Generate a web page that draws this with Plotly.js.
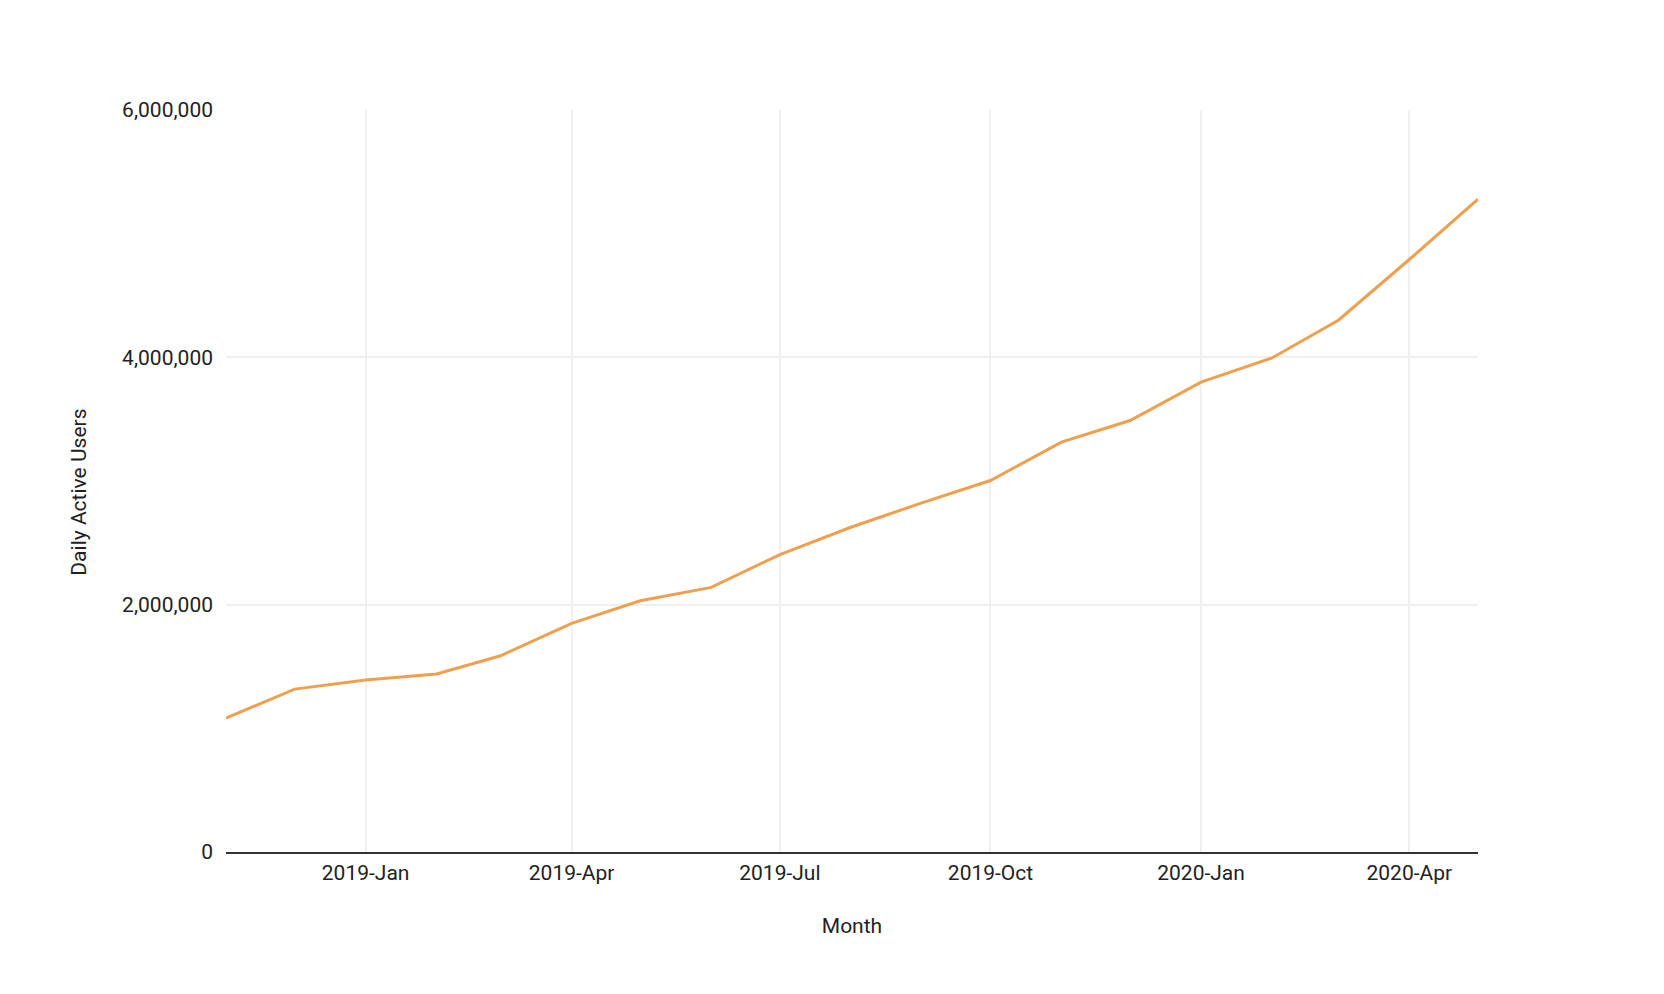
<!DOCTYPE html>
<html>
<head>
<meta charset="utf-8">
<script src="https://cdn.plot.ly/plotly-3.0.1.min.js"></script>
<style>
  html, body { margin: 0; padding: 0; background: #ffffff; }
  #chart { width: 1664px; height: 994px; }
</style>
</head>
<body>
<div id="chart"></div>
<script>
// Monthly data points (first of each month)
const months = [
  '2018-11-01', '2018-12-01', '2019-01-01', '2019-02-01', '2019-03-01',
  '2019-04-01', '2019-05-01', '2019-06-01', '2019-07-01', '2019-08-01',
  '2019-09-01', '2019-10-01', '2019-11-01', '2019-12-01', '2020-01-01',
  '2020-02-01', '2020-03-01', '2020-04-01', '2020-05-01'
];
const dailyActiveUsers = [
  1083000, 1317000, 1390000, 1439000, 1587000,
  1849000, 2032000, 2140000, 2405000, 2626000,
  2823000, 3004000, 3314000, 3489000, 3800000,
  3995000, 4300000, 4791000, 5279000
];
const yTickValues = [0, 2000000, 4000000, 6000000];
const xAxisTitle = 'Month';
const yAxisTitle = 'Daily Active Users';

const fontFamily = 'Roboto, "Liberation Sans", Arial, sans-serif';

const trace = {
  type: 'scatter',
  mode: 'lines',
  x: months,
  y: dailyActiveUsers,
  line: { color: '#EEA04E', width: 3 },
  hoverinfo: 'x+y'
};

const layout = {
  width: 1664,
  height: 994,
  paper_bgcolor: '#ffffff',
  plot_bgcolor: '#ffffff',
  showlegend: false,
  margin: { l: 226, r: 186, t: 110, b: 142, autoexpand: false },
  font: { family: fontFamily, size: 21, color: '#222222' },
  xaxis: {
    type: 'date',
    range: ['2018-11-01', '2020-05-01'],
    tick0: '2019-01-01',
    dtick: 'M3',
    tickformat: '%Y-%b',
    ticks: '',
    ticklabelstandoff: 1,
    showgrid: true,
    gridcolor: '#f0f0f0',
    gridwidth: 1.5,
    zeroline: false,
    showline: true,
    linecolor: '#333333',
    linewidth: 1.5,
    tickfont: { family: fontFamily, size: 21, color: '#222222' },
    title: { text: xAxisTitle, font: { family: fontFamily, size: 21, color: '#222222' }, standoff: 34 },
    automargin: false
  },
  yaxis: {
    range: [0, 6000000],
    tickvals: yTickValues,
    tickformat: ',d',
    ticks: '',
    ticklabelstandoff: 12,
    showgrid: true,
    gridcolor: '#f0f0f0',
    gridwidth: 1.5,
    zeroline: false,
    showline: false,
    tickfont: { family: fontFamily, size: 21, color: '#222222' },
    automargin: false
  },
  annotations: [{
    text: yAxisTitle,
    xref: 'paper', yref: 'paper',
    x: -0.1174, y: 0.4843,
    xanchor: 'center', yanchor: 'middle',
    textangle: -90,
    showarrow: false,
    font: { family: fontFamily, size: 21, color: '#222222' }
  }]
};

Plotly.newPlot('chart', [trace], layout, { displayModeBar: false, responsive: false });
</script>
</body>
</html>
